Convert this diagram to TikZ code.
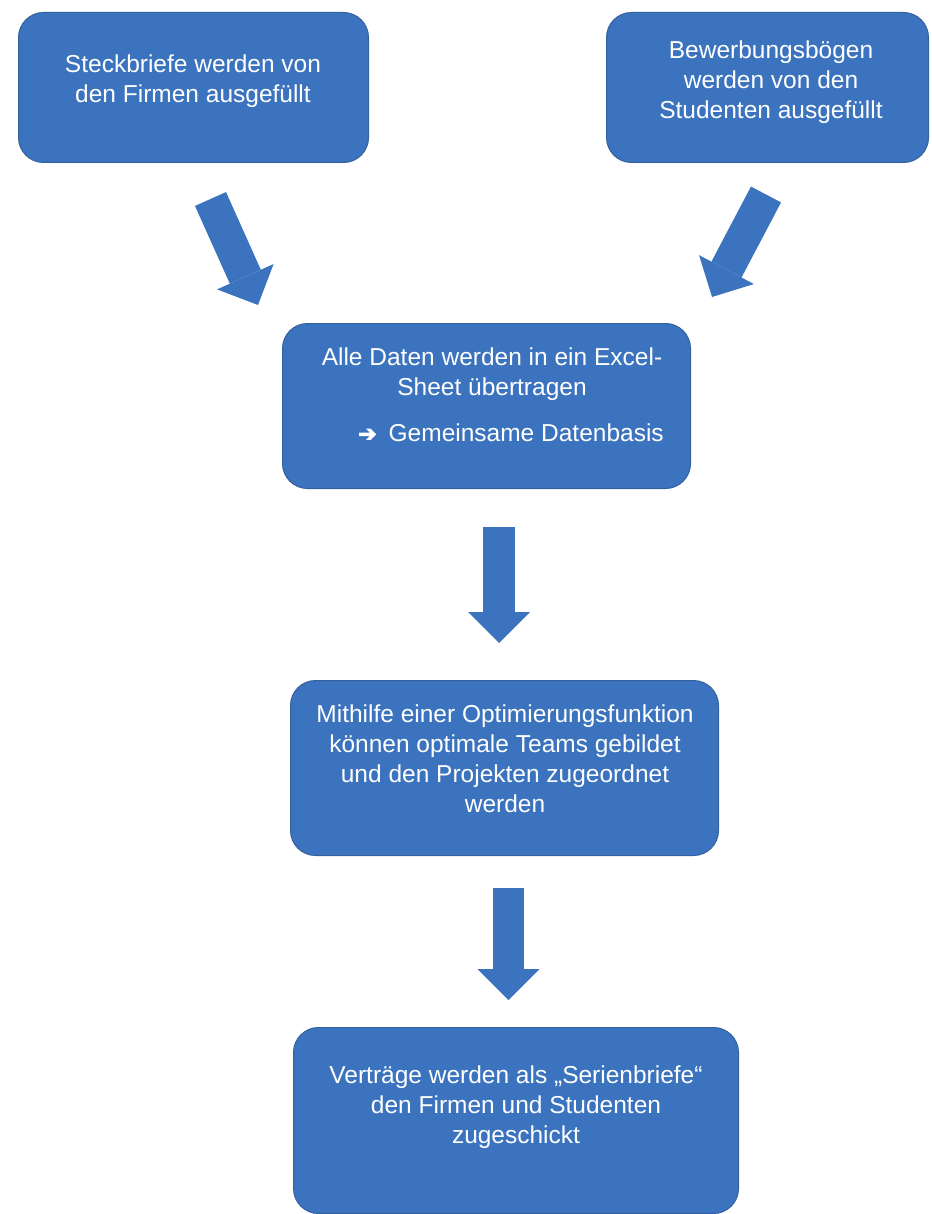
\documentclass[tikz,border=0pt]{standalone}
\usepackage{fontspec}
\setmainfont{Liberation Sans}
\newfontfamily\symfont[FakeBold=4]{DejaVu Sans}
\usetikzlibrary{arrows.meta}
\definecolor{boxblue}{RGB}{59,115,190}
\definecolor{boxedge}{RGB}{50,96,160}
\begin{document}
\begin{tikzpicture}[x=1pt,y=-1pt,
  box/.style={draw=boxedge, line width=1pt, fill=boxblue, rounded corners=25pt,
    anchor=north west, inner sep=0pt},
  txt/.style={text=white, font=\fontsize{24.5}{30}\selectfont, align=center,
    inner sep=0pt, anchor=north},
  blockarrow/.style={draw=boxblue, line width=34pt,
    -{Triangle[length=31pt, width=62pt, line width=0pt]}}]
\useasboundingbox (0,0) rectangle (931,1214);

% boxes
\node[box, minimum width=350pt, minimum height=150pt] (b1) at (18,12) {};
\node[box, minimum width=322pt, minimum height=150pt] (b2) at (606,12) {};
\node[box, minimum width=408pt, minimum height=165pt] (b3) at (282,323) {};
\node[box, minimum width=428pt, minimum height=175pt] (b4) at (290,680) {};
\node[box, minimum width=445pt, minimum height=186pt] (b5) at (293,1027) {};

% texts
\node[txt] (t1) at (193,51) {\strut Steckbriefe werden von\\den Firmen ausgefüllt};
\node[txt] (t2) at (771,37) {\strut Bewerbungsbögen\\werden von den\\Studenten ausgefüllt};
\node[txt] (t3) at (492,344) {\strut Alle Daten werden in ein Excel-\\Sheet übertragen\\[16pt]
  \hspace*{38pt}{\symfont\fontsize{22}{30}\selectfont ➔}\hspace{12pt}Gemeinsame Datenbasis};
\node[txt] (t4) at (505,701) {\strut Mithilfe einer Optimierungsfunktion\\können optimale Teams gebildet\\und den Projekten zugeordnet\\werden};
\node[txt] (t5) at (516,1062) {\strut Verträge werden als „Serienbriefe“\\den Firmen und Studenten\\zugeschickt};

% block arrows
\coordinate (a1s) at (210.5,199);  \coordinate (a1e) at (258,305);
\coordinate (a2s) at (766,194.5);  \coordinate (a2e) at (712,297);
\coordinate (a3s) at (499,527);    \coordinate (a3e) at (499,643);
\coordinate (a4s) at (508.5,888);  \coordinate (a4e) at (508.5,1000);
\draw[blockarrow] (a1s) -- (a1e);
\draw[blockarrow] (a2s) -- (a2e);
\draw[blockarrow, line width=32pt] (a3s) -- (a3e);
\draw[blockarrow, line width=31pt] (a4s) -- (a4e);
\end{tikzpicture}
\end{document}
